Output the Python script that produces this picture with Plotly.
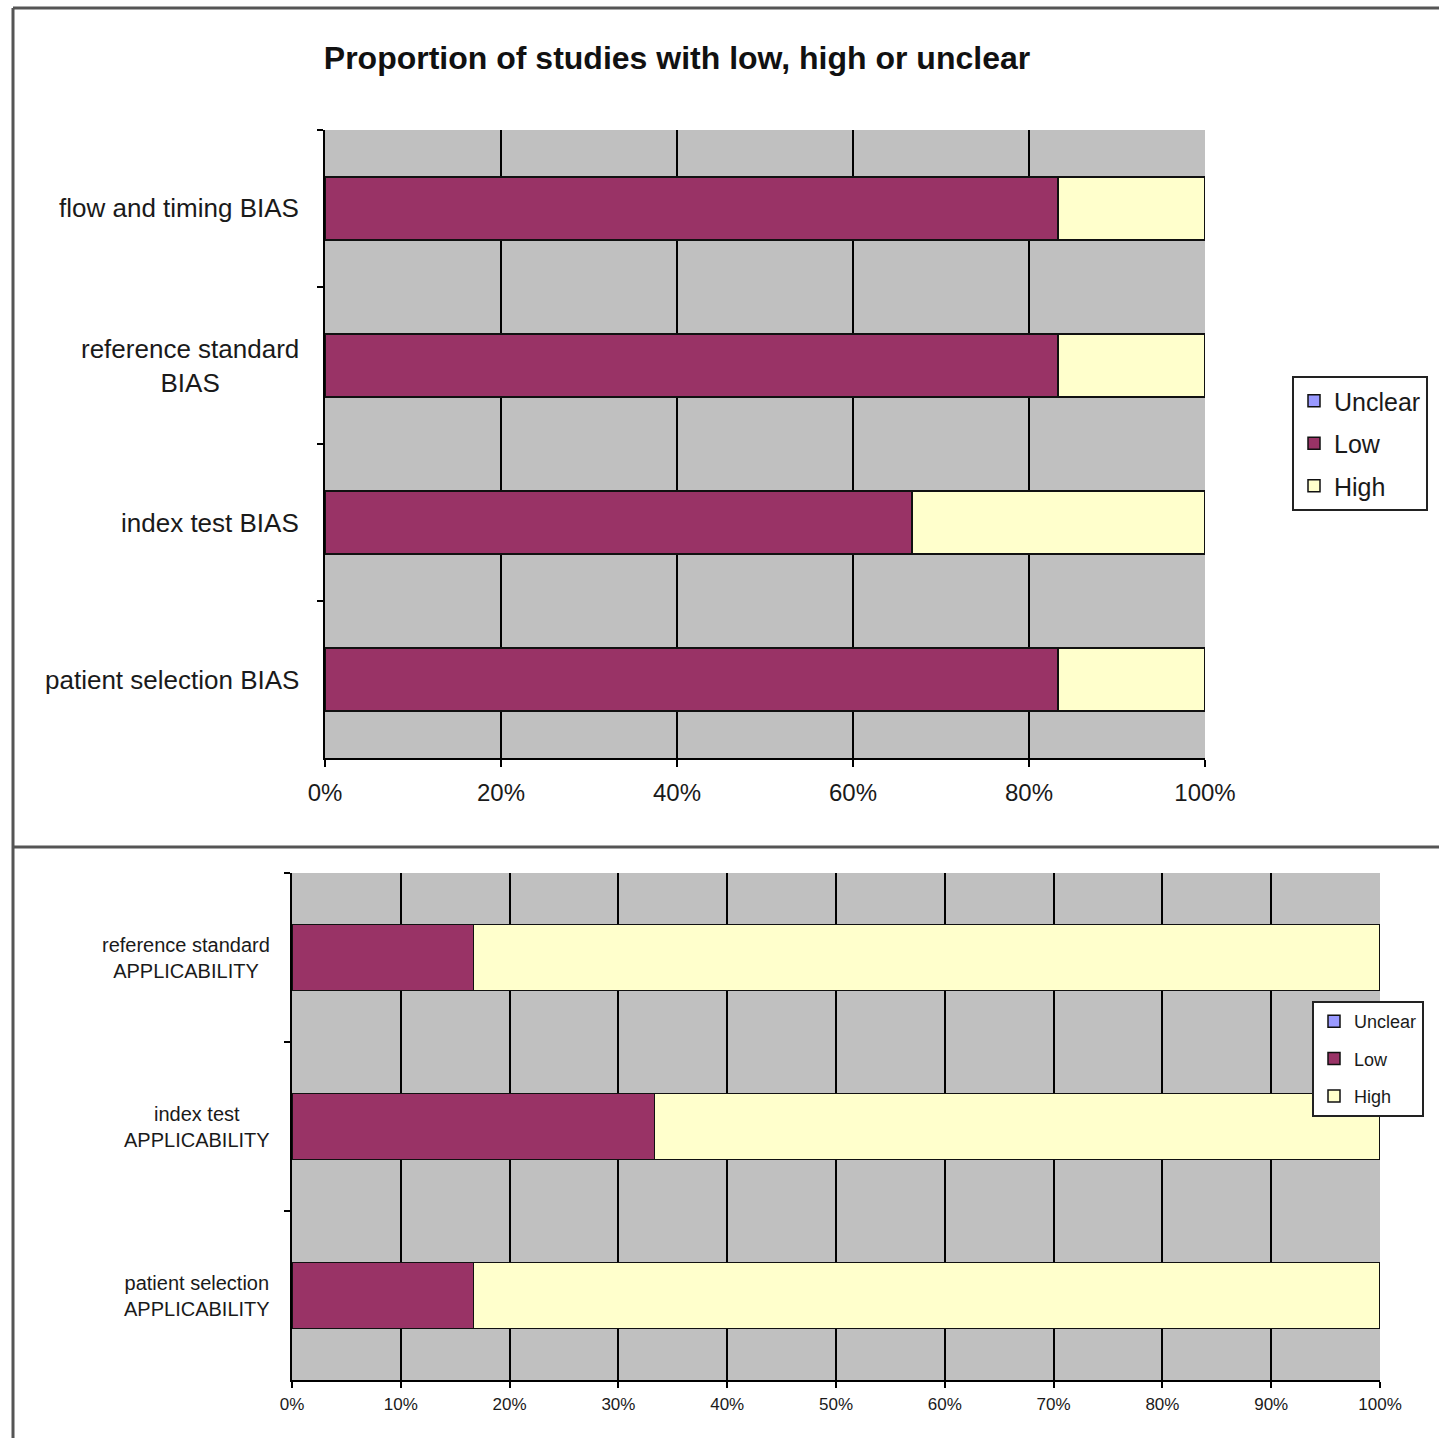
import plotly.graph_objects as go

W, H = 1439, 1438

# Risk of bias domains (top panel), listed top to bottom
bias_domains = ["flow and timing BIAS", "reference standard<br>BIAS", "index test BIAS", "patient selection BIAS"]
bias_low = [83.3, 83.3, 66.7, 83.3]
bias_high = [16.7, 16.7, 33.3, 16.7]
bias_unclear = [0, 0, 0, 0]
bias_ticks = [0, 20, 40, 60, 80, 100]

# Applicability concerns (bottom panel), listed top to bottom
appl_domains = ["reference standard<br>APPLICABILITY", "index test<br>APPLICABILITY", "patient selection<br>APPLICABILITY"]
appl_low = [16.7, 33.3, 16.7]
appl_high = [83.3, 66.7, 83.3]
appl_unclear = [0, 0, 0]
appl_ticks = [0, 10, 20, 30, 40, 50, 60, 70, 80, 90, 100]

title_text = "Proportion of studies with low, high or unclear"

LOW_C = "#993366"
HIGH_C = "#FFFFCC"
UNCLEAR_C = "#9999FF"
FONT = "Liberation Sans, Arial, sans-serif"
TXT = "#1a1a1a"


def px_x(p):
    return p / W


def px_y(p):
    return 1 - p / H


fig = go.Figure()


def add_panel(cats, low, high, unclear, xa, ya, leg, width):
    series = [("Low", low, LOW_C, 2), ("High", high, HIGH_C, 3), ("Unclear", unclear, UNCLEAR_C, 1)]
    for name, vals, col, rank in series:
        fig.add_trace(go.Bar(
            name=name, x=vals, y=cats, orientation="h",
            xaxis=xa, yaxis=ya, legend=leg, legendrank=rank,
            legendgroup=leg + name, width=width,
            marker=dict(color=col, line=dict(color="#111111", width=1.5)),
            hoverinfo="x+y",
        ))


add_panel(bias_domains, bias_low, bias_high, bias_unclear, "x", "y", "legend", 0.4)
add_panel(appl_domains, appl_low, appl_high, appl_unclear, "x2", "y2", "legend2", 0.39)

axis_common = dict(
    range=[0, 100], showgrid=True, gridcolor="black", gridwidth=2,
    showline=True, linecolor="black", linewidth=2, ticks="outside", tickcolor="black",
    tickwidth=2, zeroline=False, fixedrange=True, tickmode="array",
)
yaxis_common = dict(
    type="category", autorange="reversed", tickson="boundaries", ticks="outside",
    ticklen=6, tickcolor="black", tickwidth=2, showticklabels=False, showline=True,
    linecolor="black", linewidth=2, showgrid=False, fixedrange=True,
)

fig.update_layout(
    width=W, height=H,
    margin=dict(l=0, r=0, t=0, b=0, pad=0, autoexpand=False),
    paper_bgcolor="white", plot_bgcolor="#C0C0C0",
    barmode="stack",
    font=dict(family=FONT, color=TXT),
    title=dict(text=title_text, x=px_x(677), xanchor="center", y=px_y(58), yanchor="middle",
               font=dict(family=FONT, size=32, color="#111111", weight="bold")),
    xaxis=dict(domain=[px_x(325), px_x(1205)], anchor="y", tickvals=bias_ticks,
               ticktext=[f"{t}%" for t in bias_ticks],
               ticklen=7, tickfont=dict(size=24, color=TXT), ticklabelstandoff=5, **axis_common),
    yaxis=dict(domain=[px_y(758), px_y(130)], anchor="x", **yaxis_common),
    xaxis2=dict(domain=[px_x(292), px_x(1380)], anchor="y2", tickvals=appl_ticks,
                ticktext=[f"{t}%" for t in appl_ticks],
                ticklen=6, tickfont=dict(size=17, color=TXT), ticklabelstandoff=2, **axis_common),
    yaxis2=dict(domain=[px_y(1380), px_y(873)], anchor="x2", **yaxis_common),
    legend=dict(x=px_x(1292), xanchor="left", y=px_y(376), yanchor="top",
                bgcolor="white", bordercolor="#222222", borderwidth=2,
                font=dict(size=25, color=TXT), traceorder="grouped", tracegroupgap=7,
                itemwidth=30),
    legend2=dict(x=px_x(1312), xanchor="left", y=px_y(1001), yanchor="top",
                 bgcolor="white", bordercolor="#222222", borderwidth=2,
                 font=dict(size=18, color=TXT), traceorder="grouped", tracegroupgap=11,
                 itemwidth=30),
)

# Category labels, centred line by line and right-aligned against the axis
annotations = []
for c in bias_domains:
    annotations.append(dict(text=c, x=px_x(301), xref="paper", xanchor="right",
                            y=c, yref="y", yanchor="middle", align="center",
                            showarrow=False, font=dict(size=26, color=TXT)))
for c in appl_domains:
    annotations.append(dict(text=c, x=px_x(272), xref="paper", xanchor="right",
                            y=c, yref="y2", yanchor="middle", align="center",
                            showarrow=False, font=dict(size=20, color=TXT)))
fig.update_layout(annotations=annotations)

# Outer frame and divider between the two panels
frame = dict(type="line", xref="paper", yref="paper", line=dict(color="#555555", width=3))
fig.add_shape(x0=px_x(13), x1=px_x(13), y0=px_y(8), y1=0, **frame)
fig.add_shape(x0=px_x(13), x1=1, y0=px_y(8), y1=px_y(8), **frame)
fig.add_shape(x0=px_x(13), x1=1, y0=px_y(847), y1=px_y(847), **frame)

fig.write_html("out.html")
